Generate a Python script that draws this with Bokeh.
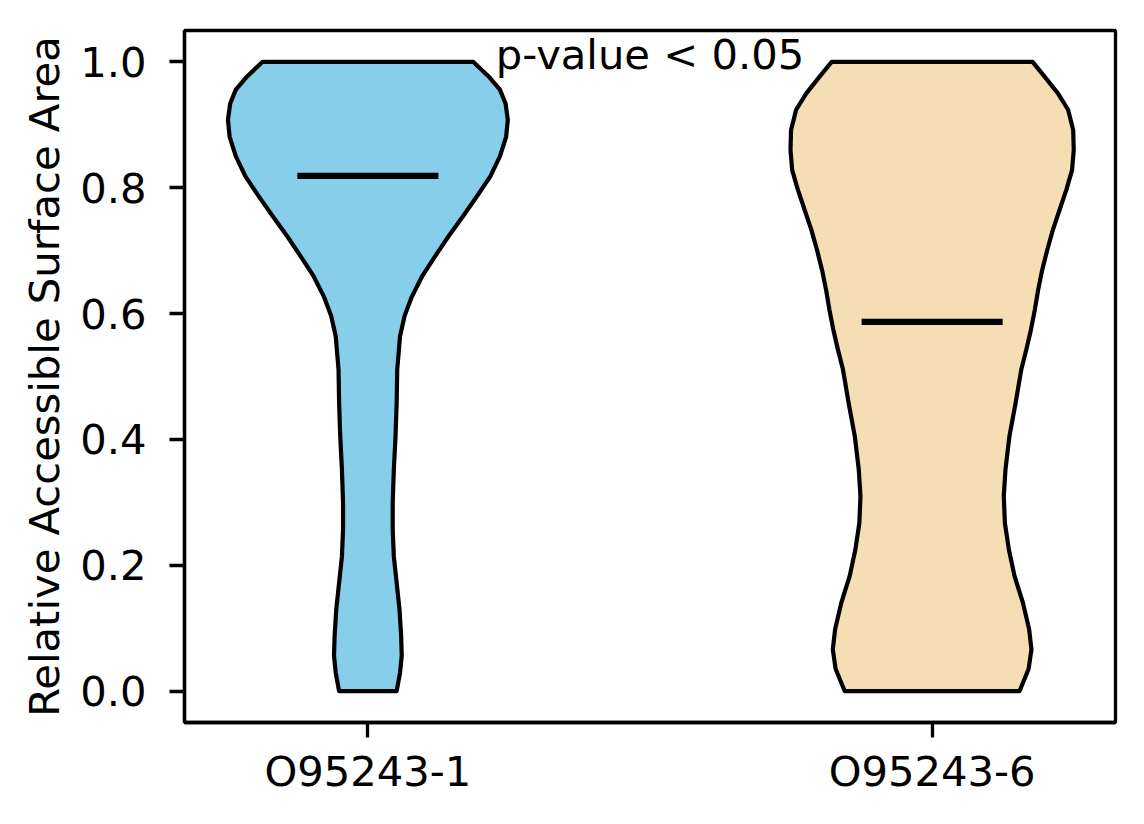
from bokeh.plotting import figure
from bokeh.models import Range1d, FixedTicker, ColumnDataSource, Label
from bokeh.embed import file_html
from bokeh.resources import INLINE

# ---- data ----
categories = ["O95243-1", "O95243-6"]
positions = [1, 2]
colors = ["#87CEEB", "#F5DEB3"]

# violin outline profile: value levels and half-widths (x-units) at those levels
levels_1 = [0.0, 0.029, 0.056, 0.087, 0.130, 0.172, 0.214, 0.257, 0.299, 0.352,
            0.405, 0.458, 0.511, 0.532, 0.564, 0.596, 0.627, 0.659, 0.691, 0.723,
            0.754, 0.786, 0.818, 0.850, 0.881, 0.908, 0.934, 0.956, 0.977, 1.0]
halfw_1 = [0.051, 0.057, 0.060, 0.059, 0.056, 0.051, 0.046, 0.044, 0.044, 0.046,
           0.049, 0.051, 0.052, 0.054, 0.057, 0.065, 0.078, 0.096, 0.119, 0.143,
           0.168, 0.193, 0.217, 0.234, 0.245, 0.248, 0.244, 0.234, 0.214, 0.187]

levels_2 = [0.0, 0.035, 0.066, 0.098, 0.140, 0.183, 0.225, 0.267, 0.310, 0.352,
            0.405, 0.458, 0.511, 0.543, 0.574, 0.606, 0.638, 0.669, 0.701, 0.733,
            0.765, 0.797, 0.828, 0.860, 0.892, 0.924, 0.950, 0.977, 1.0]
halfw_2 = [0.155, 0.171, 0.176, 0.172, 0.161, 0.146, 0.136, 0.129, 0.127, 0.130,
           0.137, 0.148, 0.158, 0.167, 0.175, 0.182, 0.188, 0.195, 0.204, 0.214,
           0.226, 0.238, 0.248, 0.251, 0.250, 0.241, 0.223, 0.199, 0.178]

means = [0.819, 0.587]

y_ticks = [0.0, 0.2, 0.4, 0.6, 0.8, 1.0]
y_tick_labels = ["0.0", "0.2", "0.4", "0.6", "0.8", "1.0"]

annotation_text = "p-value < 0.05"
annotation_x = 1.5
annotation_y = 0.99

y_label = "Relative Accessible Surface Area"

# ---- styling ----
FONT = "DejaVu Sans"
FS = "41.7px"
MEAN_HALF = 0.125

p = figure(width=1128, height=808,
           x_range=Range1d(0.675, 2.325), y_range=Range1d(-0.05, 1.05),
           output_backend="svg", toolbar_location=None,
           min_border_left=184, min_border_right=13,
           min_border_top=30, min_border_bottom=86,
           background_fill_color="white", border_fill_color="white")

p.xgrid.visible = False
p.ygrid.visible = False
p.outline_line_color = "black"
p.outline_line_width = 3.3
p.outline_line_alpha = 1.0

# violins
xs_list, ys_list = [], []
for pos, lv, hw in zip(positions, [levels_1, levels_2], [halfw_1, halfw_2]):
    xs = [pos + h for h in hw] + [pos - h for h in reversed(hw)]
    ys = list(lv) + list(reversed(lv))
    xs_list.append(xs)
    ys_list.append(ys)

src = ColumnDataSource(dict(xs=xs_list, ys=ys_list, color=colors))
p.patches("xs", "ys", source=src, fill_color="color", fill_alpha=1.0,
          line_color="black", line_width=4.2, line_join="round")

# mean lines
p.segment(x0=[c - MEAN_HALF for c in positions], x1=[c + MEAN_HALF for c in positions],
          y0=means, y1=means, line_color="black", line_width=6.25)

# annotation
p.add_layout(Label(x=annotation_x, y=annotation_y, text=annotation_text,
                   y_offset=14,
                   text_align="center", text_baseline="alphabetic",
                   text_font=FONT, text_font_size=FS, text_color="black"))

# axes
p.xaxis.ticker = FixedTicker(ticks=positions)
p.xaxis.major_label_overrides = {pos: lab for pos, lab in zip(positions, categories)}
p.yaxis.ticker = FixedTicker(ticks=y_ticks)
p.yaxis.major_label_overrides = {t: l for t, l in zip(y_ticks, y_tick_labels)}
p.yaxis.axis_label = y_label

for ax in (p.xaxis[0], p.yaxis[0]):
    ax.axis_line_color = "black"
    ax.axis_line_width = 3.3
    ax.major_tick_line_color = "black"
    ax.major_tick_line_width = 3.3
    ax.major_tick_out = 15
    ax.major_tick_in = 0
    ax.minor_tick_line_color = None
    ax.major_label_text_font = FONT
    ax.major_label_text_font_size = FS
    ax.major_label_text_color = "black"
    ax.axis_label_text_font = FONT
    ax.axis_label_text_font_size = FS
    ax.axis_label_text_font_style = "normal"
    ax.axis_label_text_color = "black"

p.xaxis.major_label_standoff = 9
p.yaxis.major_label_standoff = 23
p.yaxis.axis_label_standoff = 8

open("out.html", "w").write(file_html(p, INLINE))
